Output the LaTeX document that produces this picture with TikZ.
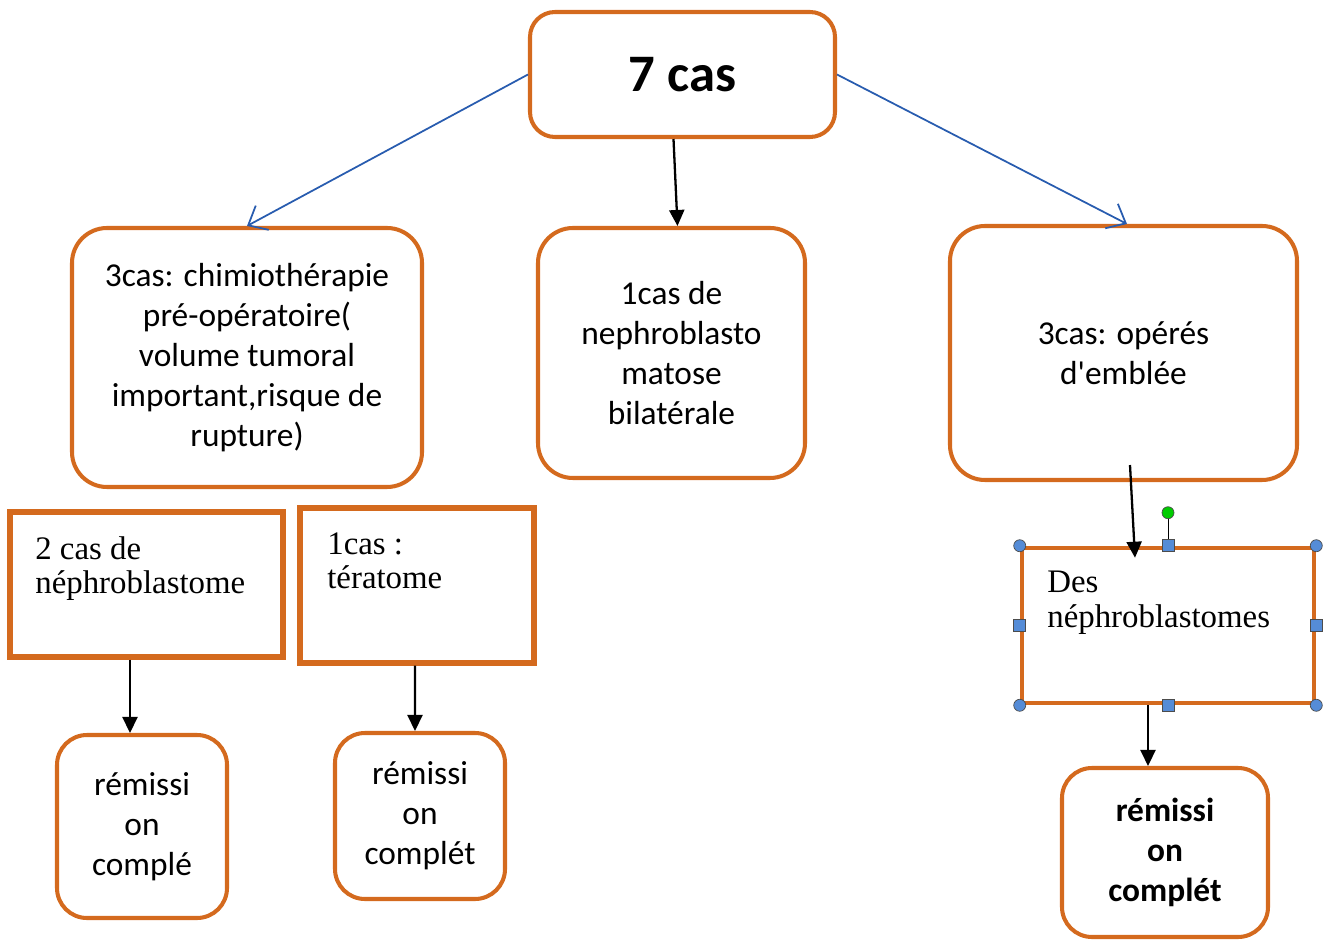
\documentclass[tikz,border=0pt]{standalone}
\usepackage{fontspec}
\setmainfont{Carlito}
\newfontfamily\timesfont{Liberation Serif}
\usepackage{tikz}
\usepackage{xcolor}
\usetikzlibrary{shapes,arrows.meta,positioning,calc}

\definecolor{boxorange}{RGB}{212,106,30}
\definecolor{linkblue}{RGB}{40,92,175}
\definecolor{handleblue}{RGB}{85,140,215}

\tikzset{
    casebox/.style={draw=boxorange, line width=2.3pt, rounded corners=0.7cm, align=center,
        inner sep=0pt, font=\fontsize{19}{22.7}\selectfont},
    plainbox/.style={draw=boxorange, line width=3pt, inner sep=0pt},
    serifnote/.style={anchor=north west, align=left, inner sep=0pt,
        font=\timesfont\fontsize{18.7}{19.8}\selectfont},
    bluelink/.style={draw=linkblue, line width=1pt, -{Straight Barb[length=0.32cm,width=0.55cm]}},
    blacklink/.style={line width=1.3pt, -{Triangle[length=0.32cm,width=0.3cm]}},
    handlecirc/.style={fill=handleblue, draw=black!70, line width=0.4pt},
}

\begin{document}
\begin{tikzpicture}
    \useasboundingbox (0,0) rectangle (26.52,-18.8);

    % Total
    \node[casebox, rounded corners=0.5cm, minimum width=6.1cm, minimum height=2.5cm,
        font=\bfseries\fontsize{30}{36}\selectfont] (total) at (13.65,-1.49) {7 cas};

    % Groups
    \node[casebox, minimum width=7cm, minimum height=5.18cm] (chimio) at (4.94,-7.15)
        {3cas: chimiothérapie\\pré-opératoire(\\volume tumoral\\important,risque de\\rupture)};
    \node[casebox, minimum width=5.34cm, minimum height=5cm] (bilat) at (13.43,-7.06)
        {1cas de\\nephroblasto\\matose\\bilatérale};
    \node[casebox, minimum width=6.94cm, minimum height=5.08cm] (operes) at (22.47,-7.06)
        {3cas: opérés\\d\textquotesingle emblée};

    % Histology
    \node[plainbox, minimum width=5.46cm, minimum height=2.9cm] (nephro) at (2.93,-11.69) {};
    \node[serifnote] (nephrotxt) at (0.7,-10.72) {2 cas de\\néphroblastome};
    \node[plainbox, minimum width=4.68cm, minimum height=3.1cm] (terato) at (8.34,-11.71) {};
    \node[serifnote] (teratotxt) at (6.54,-10.64) {1cas :\\tératome};
    \node[plainbox, line width=2.6pt, minimum width=5.84cm, minimum height=3.1cm] (desnephro) at (23.36,-12.51) {};
    \node[serifnote] (desnephrotxt) at (20.94,-11.42) {Des\\néphroblastomes};

    % Outcome
    \node[casebox, rounded corners=0.6cm, minimum width=3.4cm, minimum height=3.66cm] (remA) at (2.84,-16.53)
        {rémissi\\on\\complé};
    \node[casebox, rounded corners=0.6cm, minimum width=3.4cm, minimum height=3.32cm] (remB) at (8.4,-16.32)
        {rémissi\\on\\complét};
    \node[casebox, rounded corners=0.6cm, minimum width=4.12cm, minimum height=3.38cm,
        font=\bfseries\fontsize{19}{22.7}\selectfont] (remC) at (23.3,-17.05)
        {rémissi\\on\\complét};

    % Links
    \draw[bluelink] (total.west) -- (chimio.north);
    \draw[bluelink] (total.east) -- ([xshift=0.07cm]operes.north);
    \draw[blacklink] ([xshift=-0.18cm]total.south) -- ([xshift=0.12cm]bilat.north);
    \draw[blacklink] ([xshift=0.13cm,yshift=0.34cm]operes.south) -- ([xshift=-0.66cm,yshift=-0.24cm]desnephro.north);
    \draw[blacklink] ([xshift=-0.33cm]nephro.south) -- ([xshift=-0.24cm]remA.north);
    \draw[blacklink] ([xshift=-0.04cm]terato.south) -- ([xshift=-0.1cm]remB.north);
    \draw[blacklink] ([xshift=-0.4cm]desnephro.south) -- ([xshift=-0.34cm]remC.north);

    % Selection handles
    \draw[line width=0.5pt] (desnephro.north) -- ++(0,0.66) coordinate (rotor);
    \filldraw[fill=green!80!black, draw=black!70, line width=0.4pt] (rotor) circle (0.12);
    \foreach \a in {north west, north east, south west, south east}
        \filldraw[handlecirc] (desnephro.\a) circle (0.12);
    \foreach \a in {north, south, west, east}
        \filldraw[handlecirc] ($(desnephro.\a)+(-0.12,-0.12)$) rectangle ++(0.24,0.24);
\end{tikzpicture}
\end{document}
